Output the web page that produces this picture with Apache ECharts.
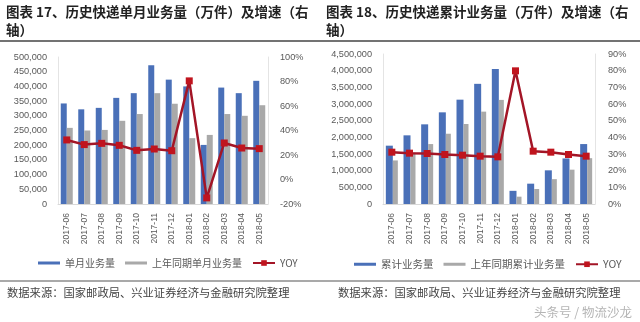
<!DOCTYPE html>
<html><head><meta charset="utf-8">
<script src="https://cdn.jsdelivr.net/npm/echarts@6.0.0/dist/echarts.min.js"></script>
<style>html,body{margin:0;padding:0;background:#fff}#c{width:640px;height:322px}</style>
</head><body><div id="c"></div>
<script>
// ---- data ----
const categories = ['2017-06','2017-07','2017-08','2017-09','2017-10','2017-11','2017-12','2018-01','2018-02','2018-03','2018-04','2018-05'];
const monthly = [342000,322000,327000,361000,377000,472000,423000,400000,201000,396000,377000,419000];
const monthlyPrev = [259000,250000,252000,283000,306000,377000,341000,224000,235000,306000,300000,336000];
const monthlyYoy = [32.3,28.5,29.5,27.9,23.8,24.9,23.5,80.5,-15,29.8,25.7,25.2];
const cumulative = [1750000,2060000,2390000,2750000,3130000,3605000,4048000,395000,610000,1010000,1367000,1798000];
const cumulativePrev = [1307000,1540000,1798000,2108000,2400000,2771000,3123000,220000,450000,745000,1030000,1375000];
const cumulativeYoy = [31.1,30.5,30.3,29.7,29.3,28.7,28.3,79.9,31.7,31.1,29.7,28.7];
const leftTicks = {min:0, max:500000, interval:50000};
const leftPct = {min:-20, max:100, interval:20};
const rightTicks = {min:0, max:4500000, interval:500000};
const rightPct = {min:0, max:90, interval:10};

const BLUE = '#4A70B8', GREY = '#A9A9A9', LINE = '#A31526', MARK = '#C0141E';
const NUMF = '"Liberation Sans", Arial, sans-serif';
const CJK = '"Noto Sans CJK SC", sans-serif';
const fmtNum = v => v.toLocaleString('en-US');
const fmtPct = v => v + '%';
const barIcon = 'path://M0,2 L22,2 L22,5 L0,5 Z';

function xAx(g){
  return {gridIndex:g, type:'category', data:categories,
    axisTick:{show:false}, axisLine:{lineStyle:{color:'#D9D9D9'}},
    axisLabel:{rotate:90, interval:0, fontSize:8.5, color:'#595959', fontFamily:NUMF, margin:9}};
}
function yAx(g, t, fmt, pos, margin){
  return {gridIndex:g, type:'value', position:pos, min:t.min, max:t.max, interval:t.interval,
    splitLine:{show:false}, axisTick:{show:false},
    axisLine:{show:true, lineStyle:{color:'#E4E4E4'}},
    axisLabel:{fontSize:9.2, color:'#595959', fontFamily:NUMF, margin:margin, formatter:fmt}};
}
function bar(name, data, color, x, y, w){
  return {name, type:'bar', xAxisIndex:x, yAxisIndex:y, data, barWidth:w, barGap:'0%',
    itemStyle:{color}, animation:false};
}
function line(data, x, y){
  return {name:'YOY', type:'line', xAxisIndex:x, yAxisIndex:y, data, symbol:'rect', symbolSize:7,
    lineStyle:{color:LINE, width:2.5}, itemStyle:{color:MARK}, z:5, animation:false};
}

const chart = echarts.init(document.getElementById('c'));
chart.setOption({
  animation:false,
  textStyle:{fontFamily:CJK},
  grid:[{left:58, top:57, width:210, height:147}, {left:383, top:54, width:212, height:150}],
  xAxis:[xAx(0), xAx(1)],
  yAxis:[yAx(0,leftTicks,fmtNum,'left',11), yAx(0,leftPct,fmtPct,'right',12),
         yAx(1,rightTicks,fmtNum,'left',11), yAx(1,rightPct,fmtPct,'right',13)],
  legend:[
    {left:33, top:253, itemWidth:22, itemHeight:7, itemGap:10,
     textStyle:{fontSize:10, color:'#595959', fontFamily:CJK},
     data:[{name:'单月业务量', icon:barIcon},{name:'上年同期单月业务量', icon:barIcon},'YOY']},
    {left:349, top:254, itemWidth:22, itemHeight:7, itemGap:10,
     textStyle:{fontSize:10.5, color:'#595959', fontFamily:CJK},
     data:[{name:'累计业务量', icon:barIcon},{name:'上年同期累计业务量', icon:barIcon},'YOY']}
  ],
  series:[
    bar('单月业务量', monthly, BLUE, 0, 0, 6),
    bar('上年同期单月业务量', monthlyPrev, GREY, 0, 0, 6),
    line(monthlyYoy, 0, 1),
    bar('累计业务量', cumulative, BLUE, 1, 2, 7),
    bar('上年同期累计业务量', cumulativePrev, GREY, 1, 2, 5),
    line(cumulativeYoy, 1, 3)
  ],
  graphic:[
    {type:'text', left:6, top:3, style:{text:'图表 17、历史快递单月业务量（万件）及增速（右\n轴）',
      font:'bold 13.5px "Noto Sans CJK SC"', fill:'#222', lineHeight:18}},
    {type:'text', left:326, top:3, style:{text:'图表 18、历史快递累计业务量（万件）及增速（右\n轴）',
      font:'bold 13.5px "Noto Sans CJK SC"', fill:'#222', lineHeight:18}},
    {type:'line', shape:{x1:0, y1:41, x2:640, y2:41}, style:{stroke:'#444', lineWidth:1.5}},
    {type:'line', shape:{x1:0, y1:281, x2:640, y2:281}, style:{stroke:'#555', lineWidth:1.2}},
    {type:'text', left:7, top:287, style:{text:'数据来源：国家邮政局、兴业证券经济与金融研究院整理',
      font:'11.3px "Noto Sans CJK SC"', fill:'#444'}},
    {type:'text', left:338, top:287, style:{text:'数据来源：国家邮政局、兴业证券经济与金融研究院整理',
      font:'11.3px "Noto Sans CJK SC"', fill:'#444'}},
    {type:'text', right:8, top:306, style:{text:'头条号 / 物流沙龙',
      font:'12.5px "Noto Sans CJK SC"', fill:'#B5B5B5'}}
  ]
});
</script></body></html>
